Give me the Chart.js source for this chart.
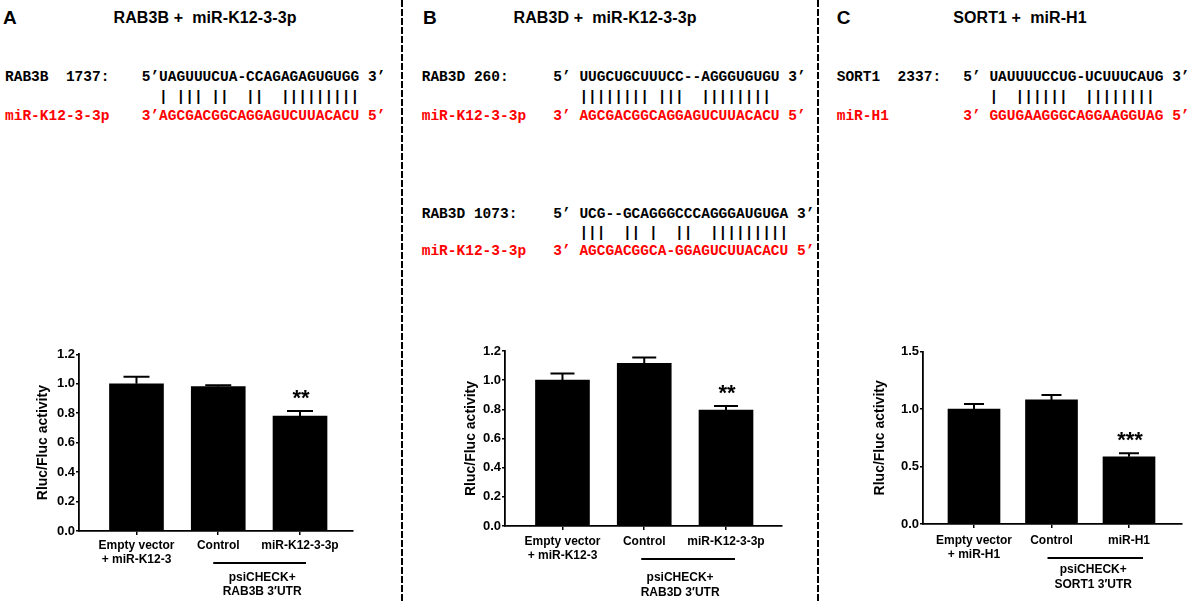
<!DOCTYPE html>
<html>
<head>
<meta charset="utf-8">
<title>Luciferase reporter assays</title>
<script src="https://cdn.jsdelivr.net/npm/chart.js@4.4.1/dist/chart.umd.min.js"></script>
<style>
body { margin: 0; background: #fff; }
.page { position: relative; width: 1199px; height: 603px; overflow: hidden; font-family: 'Liberation Sans', Arial, sans-serif; }
.letter { position: absolute; top: 8px; font-weight: bold; font-size: 19px; line-height: 20px; }
.title { position: absolute; top: 8.5px; width: 300px; text-align: center; font-weight: bold; font-size: 16px; line-height: 18px; letter-spacing: 0.1px; white-space: pre; }
.seq { position: absolute; font: bold 14.5px 'Liberation Mono', 'Courier New', monospace; line-height: 18px; white-space: pre; color: #000; }
.red { color: #f00; }
.dash { position: absolute; top: 0; width: 2px; height: 603px; background: repeating-linear-gradient(to bottom, #000 0px, #000 7px, transparent 7px, transparent 9px); }
canvas { position: absolute; top: 330px; }
</style>
</head>
<body>
<div class="page">
  <div class="dash" style="left:401px"></div>
  <div class="dash" style="left:817px"></div>

  <!-- A -->
  <div class="letter" style="left:3px">A</div>
  <div class="title" style="left:55px">RAB3B +  miR-K12-3-3p</div>
  <div class="seq" style="left:5px;top:68px">RAB3B  1737:</div>
  <div class="seq" style="left:141.7px;top:68px">5’UAGUUUCUA-CCAGAGAGUGUGG 3’</div>
  <div class="seq" style="left:141.7px;top:87.5px">  | ||| ||  ||  |||||||||</div>
  <div class="seq red" style="left:5px;top:107px">miR-K12-3-3p</div>
  <div class="seq red" style="left:141.7px;top:107px">3’AGCGACGGCAGGAGUCUUACACU 5’</div>

  <!-- B -->
  <div class="letter" style="left:423px">B</div>
  <div class="title" style="left:455px">RAB3D +  miR-K12-3-3p</div>
  <div class="seq" style="left:421.7px;top:68px">RAB3D 260:</div>
  <div class="seq" style="left:553.3px;top:68px">5’ UUGCUGCUUUCC--AGGGUGUGU 3’</div>
  <div class="seq" style="left:553.3px;top:87.5px">   |||||||| |||  ||||||||</div>
  <div class="seq red" style="left:421.7px;top:107px">miR-K12-3-3p</div>
  <div class="seq red" style="left:553.3px;top:107px">3’ AGCGACGGCAGGAGUCUUACACU 5’</div>

  <div class="seq" style="left:421.7px;top:205px">RAB3D 1073:</div>
  <div class="seq" style="left:553.3px;top:205px">5’ UCG--GCAGGGCCCAGGGAUGUGA 3’</div>
  <div class="seq" style="left:553.3px;top:224px">   |||  || |  ||  |||||||||</div>
  <div class="seq red" style="left:421.7px;top:242px">miR-K12-3-3p</div>
  <div class="seq red" style="left:553.3px;top:242px">3’ AGCGACGGCA-GGAGUCUUACACU 5’</div>

  <!-- C -->
  <div class="letter" style="left:836.7px">C</div>
  <div class="title" style="left:870px">SORT1 +  miR-H1</div>
  <div class="seq" style="left:836.7px;top:68px">SORT1  2337:</div>
  <div class="seq" style="left:963.3px;top:68px">5’ UAUUUUCCUG-UCUUUCAUG 3’</div>
  <div class="seq" style="left:963.3px;top:87.5px">   |  ||||||  ||||||||</div>
  <div class="seq red" style="left:836.7px;top:107px">miR-H1</div>
  <div class="seq red" style="left:963.3px;top:107px">3’ GGUGAAGGGCAGGAAGGUAG 5’</div>

  <canvas id="chartA" width="400" height="273" style="left:0px"></canvas>
  <canvas id="chartB" width="395" height="273" style="left:405px"></canvas>
  <canvas id="chartC" width="379" height="273" style="left:820px"></canvas>
</div>

<script>
// values (mean and upper error)
const catsA = [['Empty vector', '+ miR-K12-3'], 'Control', 'miR-K12-3-3p']
const meanA = [1.00, 0.98, 0.78]
const semA = [0.048, 0.01, 0.035]
const starsA = ['', '', '**']
const yTicksA = [0, 0.2, 0.4, 0.6, 0.8, 1.0, 1.2]
const groupA = ['psiCHECK+', 'RAB3B 3′UTR']

const catsB = [['Empty vector', '+ miR-K12-3'], 'Control', 'miR-K12-3-3p']
const meanB = [1.00, 1.115, 0.795]
const semB = [0.045, 0.04, 0.028]
const starsB = ['', '', '**']
const yTicksB = [0, 0.2, 0.4, 0.6, 0.8, 1.0, 1.2]
const groupB = ['psiCHECK+', 'RAB3D 3′UTR']

const catsC = [['Empty vector', '+ miR-H1'], 'Control', 'miR-H1']
const meanC = [1.00, 1.08, 0.585]
const semC = [0.045, 0.043, 0.032]
const starsC = ['', '', '***']
const yTicksC = [0, 0.5, 1.0, 1.5]
const groupC = ['psiCHECK+', 'SORT1 3′UTR']

Chart.defaults.font.family = '"Liberation Sans", Arial, sans-serif'
Chart.defaults.color = '#000'

const lookA = { padding: { left: 34.6, right: 47, top: 24.3, bottom: 0 }, yWidth: 44.4, xHeight: 72, xPad: 3,
    xMin: 0.297, xMax: 3.648, barWidth: 54, cap: 13, bracket: [-5, 6], lineY: 32, textY: [47, 61], textDx: 3 }
const lookB = { padding: { left: 57.3, right: 18, top: 21, bottom: 0 }, yWidth: 42.7, xHeight: 77, xPad: 4.5,
    xMin: 0.297, xMax: 3.685, barWidth: 54, cap: 12, bracket: [-3, 9], lineY: 33, textY: [52, 67], textDx: -5 }
const lookC = { padding: { left: 51.6, right: 17.3, top: 21.7, bottom: 0 }, yWidth: 51.4, xHeight: 79, xPad: 5,
    xMin: 0.342, xMax: 3.68, barWidth: 52, cap: 10, bracket: [-4, 14], lineY: 34, textY: [46, 61], textDx: 3 }

function makeChart(id, cats, mean, sem, stars, yTicks, group, look) {
    // error bars, stars and the psiCHECK bracket
    const extras = {
        id: 'extras',
        afterDatasetsDraw(chart) {
            const ctx = chart.ctx
            const x = chart.scales.x
            const y = chart.scales.y
            ctx.save()
            ctx.strokeStyle = '#000'
            ctx.fillStyle = '#000'
            ctx.lineWidth = 2
            chart.getDatasetMeta(0).data.forEach((bar, i) => {
                let top = y.getPixelForValue(mean[i] + sem[i])
                ctx.beginPath()
                ctx.moveTo(bar.x, bar.y)
                ctx.lineTo(bar.x, top)
                ctx.moveTo(bar.x - look.cap, top)
                ctx.lineTo(bar.x + look.cap, top)
                ctx.stroke()
                if( stars[i] ) {
                    ctx.font = 'bold 22px "Liberation Sans", Arial, sans-serif'
                    ctx.textAlign = 'center'
                    ctx.textBaseline = 'alphabetic'
                    ctx.fillText(stars[i], bar.x + 1, top - 6)
                }
            })
            let c2 = x.getPixelForValue(2)
            let c3 = x.getPixelForValue(3)
            let yb = x.top + look.lineY
            ctx.beginPath()
            ctx.moveTo(c2 + look.bracket[0], yb)
            ctx.lineTo(c3 + look.bracket[1], yb)
            ctx.stroke()
            ctx.font = 'bold 12px "Liberation Sans", Arial, sans-serif'
            ctx.textAlign = 'center'
            ctx.textBaseline = 'middle'
            ctx.fillText(group[0], (c2 + c3) / 2 + look.textDx, x.top + look.textY[0])
            ctx.fillText(group[1], (c2 + c3) / 2 + look.textDx, x.top + look.textY[1])
            ctx.restore()
        }
    }

    return new Chart(document.getElementById(id), {
        type: 'bar',
        data: {
            datasets: [{
                data: mean.map((v, i) => ({ x: i + 1, y: v })),
                backgroundColor: '#000',
                borderWidth: 0,
                barThickness: look.barWidth
            }]
        },
        options: {
            responsive: false,
            animation: false,
            layout: { padding: look.padding },
            plugins: {
                legend: { display: false },
                tooltip: { enabled: false }
            },
            scales: {
                x: {
                    type: 'linear',
                    min: look.xMin,
                    max: look.xMax,
                    offset: false,
                    afterBuildTicks: s => { s.ticks = cats.map((c, i) => ({ value: i + 1 })) },
                    afterFit: s => { s.height = look.xHeight },
                    grid: { offset: false, drawOnChartArea: false, tickLength: 4, color: '#000', lineWidth: 1.5 },
                    border: { color: '#000', width: 1.8 },
                    ticks: {
                        autoSkip: false,
                        maxRotation: 0,
                        padding: look.xPad,
                        font: { size: 12, weight: 'bold' },
                        callback: (v, i) => cats[i]
                    }
                },
                y: {
                    min: 0,
                    max: yTicks[yTicks.length - 1],
                    afterBuildTicks: s => { s.ticks = yTicks.map(v => ({ value: v })) },
                    afterFit: s => { s.width = look.yWidth },
                    grid: { drawOnChartArea: false, tickLength: 3, color: '#000', lineWidth: 1.5 },
                    border: { color: '#000', width: 1.8 },
                    ticks: {
                        padding: 1,
                        font: { size: 13, weight: 'bold' },
                        callback: v => v.toFixed(1)
                    },
                    title: {
                        display: true,
                        text: 'Rluc/Fluc activity',
                        padding: 0,
                        font: { size: 14, weight: 'bold' }
                    }
                }
            }
        },
        plugins: [extras]
    })
}

makeChart('chartA', catsA, meanA, semA, starsA, yTicksA, groupA, lookA)
makeChart('chartB', catsB, meanB, semB, starsB, yTicksB, groupB, lookB)
makeChart('chartC', catsC, meanC, semC, starsC, yTicksC, groupC, lookC)
</script>
</body>
</html>
